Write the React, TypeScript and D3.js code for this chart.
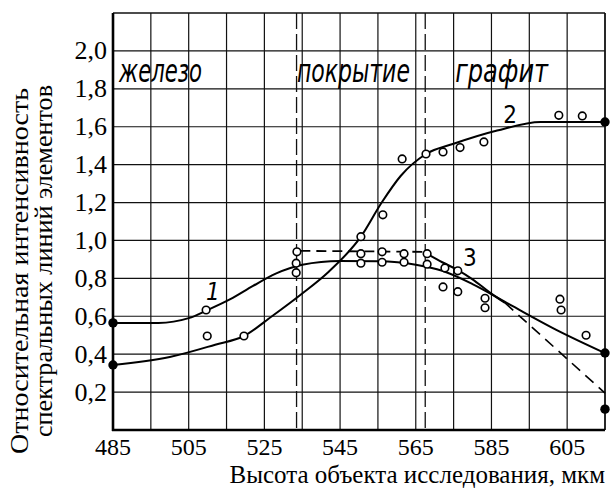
import React from "react";
import * as d3 from "d3";

// axis ticks
const xTicks = [485, 505, 525, 545, 565, 585, 605];
const xGrid = [485, 495, 505, 515, 525, 535, 545, 555, 565, 575, 585, 595, 605, 615];
const yTicks = [0.2, 0.4, 0.6, 0.8, 1.0, 1.2, 1.4, 1.6, 1.8, 2.0];
const yTickLabels = ["0,2", "0,4", "0,6", "0,8", "1,0", "1,2", "1,4", "1,6", "1,8", "2,0"];
const zoneBorders = [533.5, 567.5];
const zoneNames = ["железо", "покрытие", "графит"];

// curve 1 (solid)
const curve1X = [485, 497, 505, 510, 516, 522, 528, 535, 545, 555, 565, 572, 580, 590, 602, 615];
const curve1Y = [0.565, 0.565, 0.59, 0.633, 0.69, 0.76, 0.825, 0.872, 0.892, 0.89, 0.872, 0.84, 0.77, 0.66, 0.53, 0.406];

// curve 2 (solid)
const curve2X = [485, 500, 512, 519.6, 527, 535, 542, 550.5, 556, 561, 567.7, 575, 586.5, 598, 615];
const curve2Y = [0.343, 0.385, 0.45, 0.496, 0.6, 0.72, 0.835, 1.02, 1.2, 1.34, 1.456, 1.51, 1.58, 1.625, 1.625];

// curve 3: dashed plateau, solid drop, dashed tail
const curve3FlatX = [534.5, 567.5];
const curve3FlatY = [0.945, 0.94];
const curve3X = [567.5, 572, 576, 580, 584.6, 588.6];
const curve3Y = [0.935, 0.885, 0.845, 0.795, 0.725, 0.67];
const curve3TailX = [588.6, 615];
const curve3TailY = [0.67, 0.195];

// measured points (open circles)
const pointsX = [509.6, 509.9, 519.6, 533.6, 533.4, 533.4, 556.3, 550.5, 550.5, 550.5, 556.1, 556.1, 561.9, 561.9, 568, 568, 572.7, 576.1, 572.2, 576.1, 583.3, 583.3, 603.1, 603.4, 610, 561.4, 567.7, 572.2, 576.7, 583, 602.8, 609];
const pointsY = [0.633, 0.496, 0.496, 0.94, 0.88, 0.83, 1.135, 1.02, 0.93, 0.88, 0.94, 0.885, 0.93, 0.885, 0.93, 0.875, 0.855, 0.84, 0.755, 0.73, 0.695, 0.645, 0.69, 0.633, 0.5, 1.43, 1.456, 1.467, 1.49, 1.52, 1.66, 1.657];

// end points (filled)
const dotsX = [485, 485, 615, 615, 615];
const dotsY = [0.565, 0.343, 1.625, 0.406, 0.11];

const zip = (a: number[], b: number[]) => a.map((v, i) => [v, b[i]] as [number, number]);

export default function App() {
  const x = d3.scaleLinear().domain([485, 615]).range([113, 605]);
  const y = d3.scaleLinear().domain([0, 2.2]).range([430, 13]);

  const smooth = d3
    .line<[number, number]>()
    .x((d) => x(d[0]))
    .y((d) => y(d[1]))
    .curve(d3.curveMonotoneX);
  const straight = d3
    .line<[number, number]>()
    .x((d) => x(d[0]))
    .y((d) => y(d[1]));

  const serif = { fontFamily: "Liberation Serif, serif" };
  const hand = { fontFamily: "Liberation Sans Narrow, DejaVu Sans Condensed, DejaVu Sans, sans-serif" };

  const zoneX = [486.6, 533.6, 575.4];
  const zoneLen = [83, 113, 93];

  return (
    <svg width={611} height={489} style={{ position: "absolute", left: 0, top: 0, background: "#fff" }}>
      {/* grid */}
      <g stroke="#111" strokeWidth={1.2}>
        {xGrid.map((v) => (
          <line key={"gx" + v} x1={x(v)} x2={x(v)} y1={y(0)} y2={y(2.2)} />
        ))}
        {yTicks.map((v) => (
          <line key={"gy" + v} x1={x(485)} x2={x(615)} y1={y(v)} y2={y(v)} />
        ))}
      </g>
      {/* zone borders */}
      <g stroke="#111" strokeWidth={1.3} strokeDasharray="16,5">
        {zoneBorders.map((v) => (
          <line key={"zb" + v} x1={x(v)} x2={x(v)} y1={y(2.2)} y2={y(0)} />
        ))}
      </g>
      {/* frame */}
      <line x1={x(485)} x2={x(615)} y1={y(2.2)} y2={y(2.2)} stroke="#111" strokeWidth={1.5} />
      <line x1={x(615)} x2={x(615)} y1={y(2.2)} y2={y(0)} stroke="#111" strokeWidth={1.5} />
      <line x1={x(485)} x2={x(485)} y1={y(2.2)} y2={y(0) + 1} stroke="#000" strokeWidth={2.6} />
      <line x1={x(485) - 1} x2={x(615)} y1={y(0)} y2={y(0)} stroke="#000" strokeWidth={2.6} />

      {/* curves */}
      <g fill="none" stroke="#000" strokeWidth={2}>
        <path d={smooth(zip(curve1X, curve1Y)) || ""} />
        <path d={smooth(zip(curve2X, curve2Y)) || ""} />
        <path d={smooth(zip(curve3X, curve3Y)) || ""} />
        <path d={straight(zip(curve3FlatX, curve3FlatY)) || ""} strokeDasharray="10,6" strokeWidth={1.8} />
        <path d={straight(zip(curve3TailX, curve3TailY)) || ""} strokeDasharray="11,7" strokeWidth={1.6} />
      </g>

      {/* points */}
      <g fill="#fff" stroke="#000" strokeWidth={1.6}>
        {zip(pointsX, pointsY).map((p, i) => (
          <circle key={"p" + i} cx={x(p[0])} cy={y(p[1])} r={3.8} />
        ))}
      </g>
      <g fill="#000">
        {zip(dotsX, dotsY).map((p, i) => (
          <circle key={"d" + i} cx={x(p[0])} cy={y(p[1])} r={4.7} />
        ))}
      </g>

      {/* zone names */}
      <g style={hand} fontStyle="italic" fontSize={32} fill="#000">
        {zoneNames.map((t, i) => (
          <text key={t} x={x(zoneX[i])} y={y(1.835)} textLength={zoneLen[i]} lengthAdjust="spacingAndGlyphs">
            {t}
          </text>
        ))}
      </g>

      {/* curve numbers */}
      <g style={hand} fontSize={24} fill="#000" textAnchor="middle" dominantBaseline="central">
        <text x={x(511.4)} y={y(0.728)} fontStyle="italic">1</text>
        <text x={x(589.9)} y={y(1.662)}>2</text>
        <text x={x(579.3)} y={y(0.907)}>3</text>
      </g>

      {/* tick labels */}
      <g style={serif} fill="#000">
        {xTicks.map((v) => (
          <text key={"xt" + v} x={x(v)} y={455} fontSize={24} textAnchor="middle">
            {v}
          </text>
        ))}
        {yTicks.map((v, i) => (
          <text key={"yt" + v} x={107} y={y(v)} fontSize={26} textAnchor="end" dominantBaseline="central">
            {yTickLabels[i]}
          </text>
        ))}
      </g>

      {/* axis titles */}
      <text x={605} y={483} textAnchor="end" style={serif} fontSize={25} fill="#000">
        Высота объекта исследования, мкм
      </text>
      <g style={serif} fontSize={25} fill="#000" textAnchor="middle">
        <text transform="translate(28,271) rotate(-90)" textLength={366} lengthAdjust="spacingAndGlyphs">
          Относительная интенсивность
        </text>
        <text transform="translate(52,261) rotate(-90)" textLength={352} lengthAdjust="spacingAndGlyphs">
          спектральных линий элементов
        </text>
      </g>
    </svg>
  );
}
